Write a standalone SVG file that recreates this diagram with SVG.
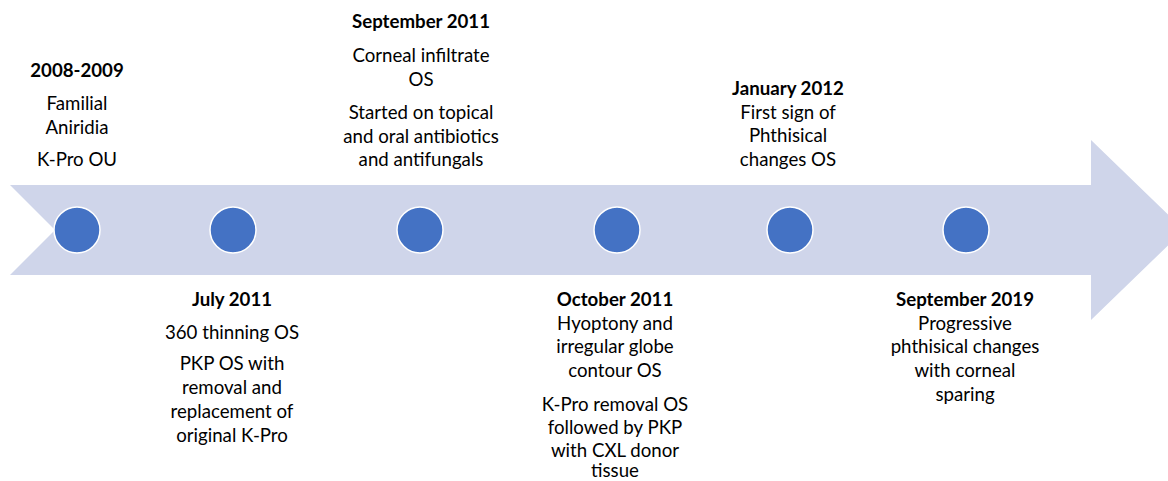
<svg xmlns="http://www.w3.org/2000/svg" width="1168" height="481" viewBox="0 0 1168 481">
<style>
text{font-family:Lato,"Open Sans","Liberation Sans",sans-serif;font-size:18.67px;fill:#000;text-anchor:middle}
.t{font-weight:bold}
.dot{fill:#4472C4;stroke:#fff;stroke-width:1.5}
</style>
<rect width="1168" height="481" fill="#fff"/>
<g id="arrow">
<polygon points="10,185 1091,185 1091,140 1184,230 1091,320 1091,275 10,275 55,230" fill="#CFD5EA"/>
</g>
<g id="connectors"></g>
<g id="n1"><circle class="dot" cx="77" cy="230" r="23"/>
<text x="77" y="77" class="t">2008-2009</text>
<text x="77" y="110">Familial</text>
<text x="77" y="133.5">Aniridia</text>
<text x="77" y="166">K-Pro OU</text></g>
<g id="n2"><circle class="dot" cx="233" cy="230" r="23"/>
<text x="232" y="306" class="t">July 2011</text>
<text x="232" y="339">360 thinning OS</text>
<text x="232" y="369.5">PKP OS with</text>
<text x="232" y="393.5">removal and</text>
<text x="232" y="417.5">replacement of</text>
<text x="232" y="441.5">original K-Pro</text></g>
<g id="n3"><circle class="dot" cx="420" cy="230" r="23"/>
<text x="421" y="28" class="t">September 2011</text>
<text x="421" y="62">Corneal infiltrate</text>
<text x="421" y="85.7">OS</text>
<text x="421" y="119">Started on topical</text>
<text x="421" y="142.7">and oral antibiotics</text>
<text x="421" y="166.4">and antifungals</text></g>
<g id="n4"><circle class="dot" cx="617" cy="230" r="23"/>
<text x="615" y="306" class="t">October 2011</text>
<text x="615" y="329.7">Hyoptony and</text>
<text x="615" y="353.4">irregular globe</text>
<text x="615" y="377.1">contour OS</text>
<text x="615" y="410.5">K-Pro removal OS</text>
<text x="615" y="433.5">followed by PKP</text>
<text x="615" y="456.5">with CXL donor</text>
<text x="615" y="476.5">tissue</text></g>
<g id="n5"><circle class="dot" cx="790" cy="230" r="23"/>
<text x="788" y="95" class="t">January 2012</text>
<text x="788" y="118.7">First sign of</text>
<text x="788" y="142.4">Phthisical</text>
<text x="788" y="166.1">changes OS</text></g>
<g id="n6"><circle class="dot" cx="966" cy="230" r="23"/>
<text x="965" y="306" class="t">September 2019</text>
<text x="965" y="329.7">Progressive</text>
<text x="965" y="353.4">phthisical changes</text>
<text x="965" y="377.1">with corneal</text>
<text x="965" y="400.8">sparing</text></g>
</svg>
